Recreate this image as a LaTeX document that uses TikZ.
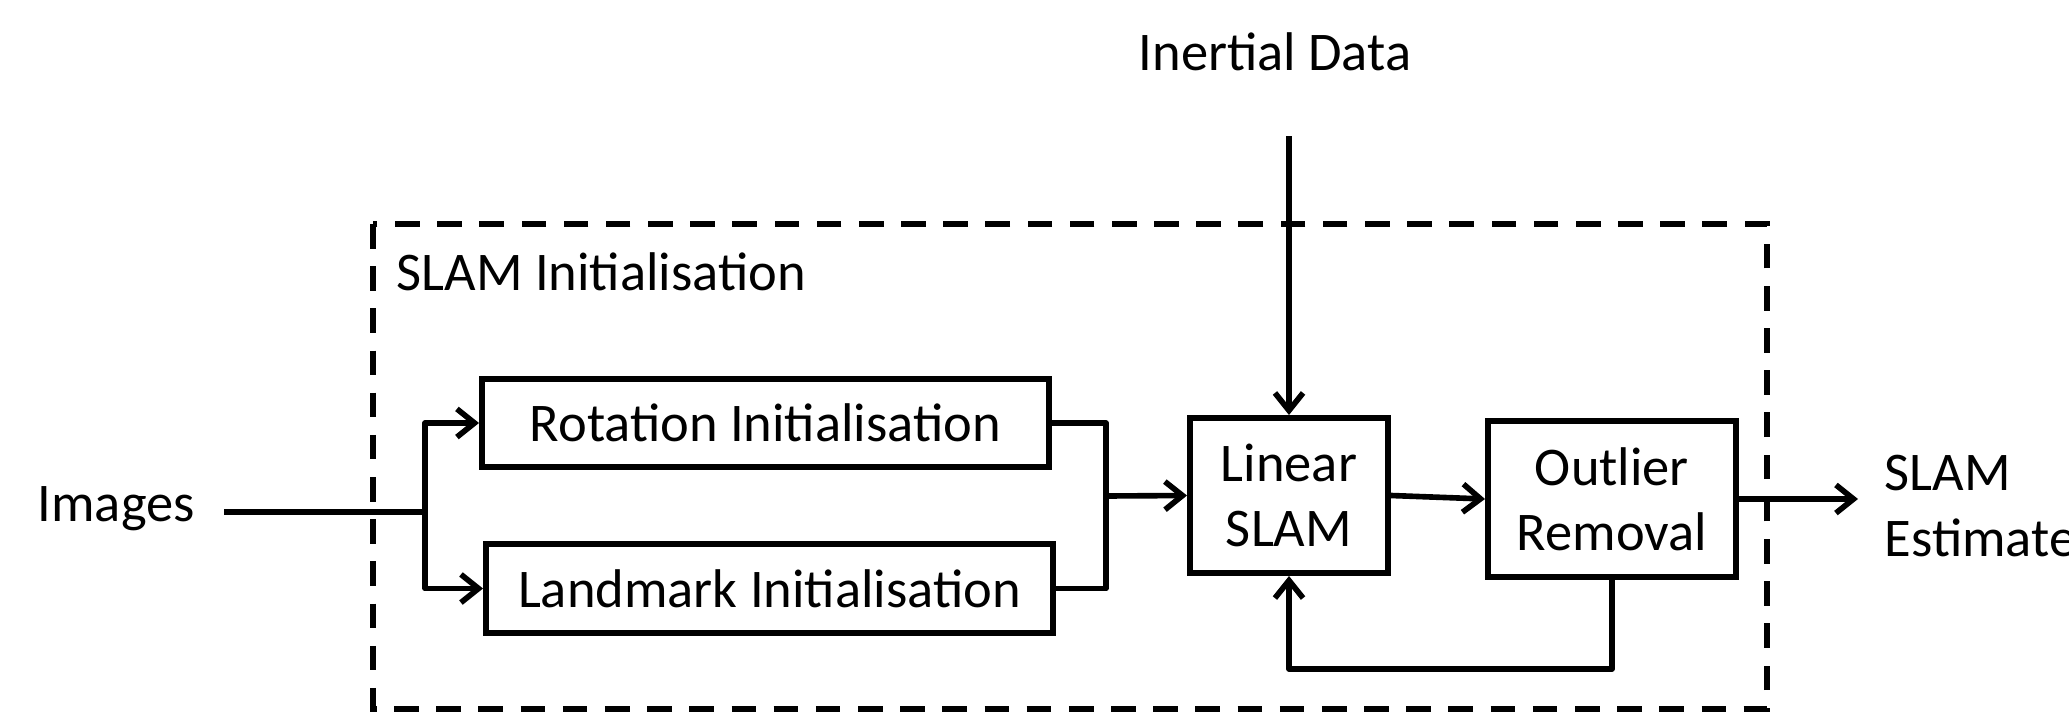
\documentclass[tikz,border=0pt]{standalone}
\usepackage{fontspec}
\setmainfont{Carlito}
\usetikzlibrary{arrows.meta,shadows}

\begin{document}
\begin{tikzpicture}[x=1cm,y=1cm,
  every node/.style={font=\fontsize{15.5}{18.6}\selectfont},
  block/.style={draw, line width=1.7pt, fill=white, align=center,
    inner sep=0pt, minimum height=#1,
    drop shadow={shadow xshift=0.9pt, shadow yshift=-0.9pt, opacity=0.25}},
  block/.default=0.88cm,
  flow/.style={line width=1.6pt, line join=round},
  tip/.style={flow, -{Straight Barb[length=5pt,width=8pt,line width=1.6pt]}},
  frame/.style={line width=1.7pt, dash pattern=on 7pt off 5pt},
  label/.style={anchor=base west, inner sep=0pt}]

\useasboundingbox (0,0) rectangle (20.69,-7.13);

% initialisation stage frame
\draw[frame] (3.73,-2.24) rectangle (17.67,-7.09);
\node[label] (title) at (3.96,-2.90) {SLAM Initialisation};

% processing blocks
\node[block, minimum width=5.67cm] (rot) at (7.655,-4.23) {Rotation Initialisation};
\node[block=0.89cm, minimum width=5.67cm] (lmk) at (7.695,-5.885) {Landmark Initialisation};
\node[block=1.55cm, minimum width=1.98cm] (lin) at (12.89,-4.955) {Linear\\SLAM};
\node[block=1.56cm, minimum width=2.48cm] (out) at (16.12,-4.99) {Outlier\\Removal};

% inputs and output labels (base anchor sits on the last line)
\node[label] (img) at (0.37,-5.21) {Images};
\node[anchor=base, inner sep=0pt] (imu) at (12.75,-0.71) {Inertial Data};
\node[label, align=left] (est) at (18.84,-5.56) {SLAM\\Estimate};

% connection points
\coordinate (imgstart) at (2.24,-5.12);
\coordinate (split) at (4.25,-5.12);
\coordinate (imutop) at (12.89,-1.36);
\coordinate (merge) at (11.06,-4.96);
\coordinate (estend) at (18.58,-4.99);
\coordinate (loop) at (16.12,-6.69);

% image stream split into the two initialisers
\draw[flow] (imgstart) -- (split);
\draw[tip] (split) |- (rot.west);
\draw[tip] (split) |- (lmk.west);

% initialiser outputs merged into linear SLAM
\draw[flow] (rot.east) -| (merge);
\draw[flow] (lmk.east) -| (merge);
\draw[tip] (merge) -- (lin.west);

% inertial input
\draw[tip] (imutop) -- (lin.north);

% main chain and feedback loop
\draw[tip] (lin.east) -- (out.west);
\draw[tip] (out.east) -- (estend);
\draw[tip] (out.south) -- (loop) -| (lin.south);
\end{tikzpicture}
\end{document}
